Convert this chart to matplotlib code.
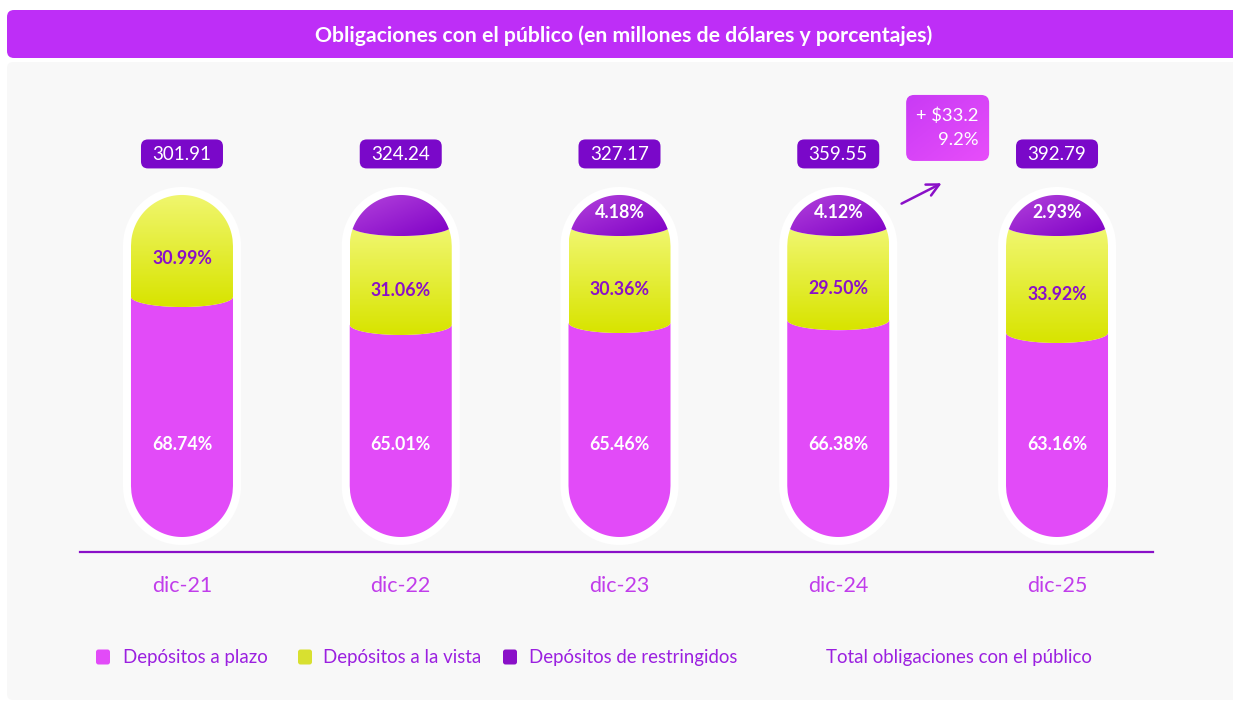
import numpy as np
import matplotlib
matplotlib.use('Agg')
import matplotlib.pyplot as plt
import matplotlib.transforms as mtransforms
from matplotlib.patches import FancyBboxPatch, Polygon
from matplotlib.colors import LinearSegmentedColormap

plt.rcParams['font.family'] = ['Lato', 'DejaVu Sans']

# ---- data (millones de dólares y %) ----
categories = ['dic-21', 'dic-22', 'dic-23', 'dic-24', 'dic-25']
totals = [301.91, 324.24, 327.17, 359.55, 392.79]
plazo = [68.74, 65.01, 65.46, 66.38, 63.16]
vista = [30.99, 31.06, 30.36, 29.50, 33.92]
restr = [0.27, 3.93, 4.18, 4.12, 2.93]
restr_shown = [False, False, True, True, True]

# ---- colours ----
C_TITLE = '#BE2EF7'
C_PANEL = '#F8F8F8'
C_PLAZO = '#E24BF8'
C_DARK = '#8A10C8'
C_BOX = '#7A08C9'
C_CAT = '#C13DEB'
C_LEG = '#9B20E0'
cm_vista = LinearSegmentedColormap.from_list('v', ['#D8E400', '#F0F66E'])
cm_cap = LinearSegmentedColormap.from_list('c', ['#7F00C6', '#B444DC'])
cm_note = LinearSegmentedColormap.from_list('n', ['#C83AF5', '#E84EFA'])

W, H = 1233, 704
fig = plt.figure(figsize=(W / 100, H / 100), dpi=100)
fig.patch.set_facecolor('white')
inch = fig.dpi_scale_trans

# title bar and panel
fig.patches.append(FancyBboxPatch((0.07, (H - 700) / 100), 12.4, 6.38,
                                  boxstyle='round,pad=0,rounding_size=0.06',
                                  fc=C_PANEL, ec='none', transform=inch, zorder=-2))
fig.patches.append(FancyBboxPatch((0.07, (H - 58) / 100), 12.4, 0.48,
                                  boxstyle='round,pad=0,rounding_size=0.07',
                                  fc=C_TITLE, ec='none', transform=inch, zorder=-1))
fig.text(624 / W, 1 - 36 / H,
         'Obligaciones con el público (en millones de dólares y porcentajes)',
         ha='center', va='center', color='white', fontsize=15.3, fontweight='bold')

# main axes
ax_l, ax_r, ax_b, ax_t = 72.6, 1166.4, 552, 62
ax = fig.add_axes([ax_l / W, (H - ax_b) / H, (ax_r - ax_l) / W, (ax_b - ax_t) / H])
ax.set_zorder(1)
ax.patch.set_visible(False)
XL = (-0.5, 4.5)
YL = (-4.39, 138.88)
ppx = (ax_r - ax_l) / (XL[1] - XL[0])
ppy = (ax_b - ax_t) / (YL[1] - YL[0])

R = 51          # pill radius, px
PAD = 8         # white rim, px
SAG = 3.0       # curvature of segment boundaries (y units)
MIN_CAP = 10.5  # minimum visible height of the top cap


def pill_xy(xc, y0, y1, r):
    rx, ry = r / ppx, r / ppy
    t1 = np.linspace(0, np.pi, 80)
    t2 = np.linspace(np.pi, 2 * np.pi, 80)
    top = np.c_[xc + rx * np.cos(t1), y1 - ry + ry * np.sin(t1)]
    bot = np.c_[xc + rx * np.cos(t2), y0 + ry + ry * np.sin(t2)]
    return np.vstack([top, bot])


rx, ry = R / ppx, R / ppy
dx = np.linspace(-rx, rx, 240)
circ = np.sqrt(np.clip(1 - (dx / rx) ** 2, 0, 1))
pill_top = 100 - ry + ry * circ
pill_bot = ry - ry * circ


def boundary(c):
    return c + SAG / 2 - SAG * circ


def segment(xc, lo, hi):
    lower = pill_bot if lo is None else np.maximum(pill_bot, boundary(lo))
    upper = pill_top if hi is None else np.minimum(pill_top, boundary(hi))
    upper = np.maximum(upper, lower)
    xy = np.vstack([np.c_[xc + dx, upper], np.c_[(xc + dx)[::-1], lower[::-1]]])
    return xy


def gradient_fill(xy, cmap, diagonal=False, z=3):
    poly = Polygon(xy, closed=True, fc='none', ec='none')
    ax.add_patch(poly)
    x0, x1 = xy[:, 0].min(), xy[:, 0].max()
    y0, y1 = xy[:, 1].min(), xy[:, 1].max()
    gx, gy = np.meshgrid(np.linspace(0, 1, 50), np.linspace(0, 1, 50))
    g = (1 - gx + gy) / 2 if diagonal else gy
    im = ax.imshow(g, extent=[x0, x1, y0, y1], origin='lower', cmap=cmap,
                   aspect='auto', zorder=z, interpolation='bilinear')
    im.set_clip_path(poly)


for i in range(len(categories)):
    # white rim
    ax.add_patch(Polygon(pill_xy(i, -PAD / ppy, 100 + PAD / ppy, R + PAD),
                         closed=True, fc='white', ec='none', zorder=2))
    if restr[i] >= 1:
        cap = max(restr[i], MIN_CAP)
        rest = 100 - cap
        p = plazo[i] / (plazo[i] + vista[i]) * rest
        v_top = 100 - cap
    else:
        p = plazo[i]
        v_top = None
    ax.add_patch(Polygon(segment(i, None, p), closed=True, fc=C_PLAZO,
                         ec='none', zorder=3))
    gradient_fill(segment(i, p, v_top), cm_vista)
    if v_top is not None:
        gradient_fill(segment(i, v_top, None), cm_cap, diagonal=True)

    ax.text(i, 27, f'{plazo[i]:.2f}%', ha='center', va='center',
            color='white', fontsize=12.8, fontweight='bold', zorder=5)
    vmid = ((p + (v_top if v_top is not None else 100)) / 2) - SAG
    ax.text(i, vmid, f'{vista[i]:.2f}%', ha='center', va='center',
            color=C_DARK, fontsize=12.8, fontweight='bold', zorder=5)
    if restr_shown[i]:
        ax.text(i, (v_top + 100) / 2, f'{restr[i]:.2f}%', ha='center',
                va='center', color='white', fontsize=12.8, fontweight='bold',
                zorder=5)

    # total label
    tr = inch + mtransforms.ScaledTranslation(i, 112, ax.transData)
    ax.add_patch(FancyBboxPatch((-0.41, -0.145), 0.82, 0.29,
                                boxstyle='round,pad=0,rounding_size=0.07',
                                fc=C_BOX, ec='none', transform=tr, zorder=5))
    ax.text(0, -0.01, f'{totals[i]:.2f}', transform=tr, ha='center',
            va='center', color='white', fontsize=13.5, zorder=6)

# growth note between the last two years
delta = totals[-1] - totals[-2]
pct = delta / totals[-2] * 100
nx, ny = len(categories) - 1.5, 119.6
tr = inch + mtransforms.ScaledTranslation(nx, ny, ax.transData)
note = FancyBboxPatch((-0.415, -0.33), 0.83, 0.66,
                      boxstyle='round,pad=0,rounding_size=0.08',
                      fc='none', ec='none', transform=tr)
ax.add_patch(note)
gx, gy = np.meshgrid(np.linspace(0, 1, 50), np.linspace(0, 1, 50))
im = ax.imshow((gx + 1 - gy) / 2, extent=[nx - 0.2, nx + 0.2, ny - 10, ny + 10],
               origin='lower', cmap=cm_note, aspect='auto', zorder=5)
im.set_clip_path(note)
ax.text(0.305, 0.12, f'+ \\${delta:.1f}', transform=tr, ha='right',
        va='center', color='white', fontsize=13.2, zorder=6)
ax.text(0.305, -0.12, f'{pct:.1f}%', transform=tr, ha='right',
        va='center', color='white', fontsize=13.2, zorder=6)
ax.annotate('', xy=(nx - 0.016, 103.8), xytext=(nx - 0.222, 97.1),
            arrowprops=dict(arrowstyle='->', color=C_DARK, lw=1.8,
                            mutation_scale=22), zorder=6)

# baseline and categories
ax.plot([-0.466, 4.439], [YL[0], YL[0]], color=C_DARK, lw=1.6,
        clip_on=False, zorder=4)
ax.set_xticks(range(len(categories)), categories)
ax.tick_params(axis='x', length=0, pad=17, labelsize=15.5, labelcolor=C_CAT)
ax.set_yticks([])
for s in ax.spines.values():
    s.set_visible(False)
ax.set_xlim(*XL)
ax.set_ylim(*YL)

# legend
leg_items = [(96, 123, 'Depósitos a plazo', C_PLAZO),
             (298, 323, 'Depósitos a la vista', '#D8E030'),
             (503, 529, 'Depósitos de restringidos', C_DARK),
             (None, 826, 'Total obligaciones con el público', None)]
ly = 657
for sx, tx, lab, col in leg_items:
    if sx is not None:
        fig.patches.append(FancyBboxPatch((sx / 100, (H - ly - 7.5) / 100),
                                          0.14, 0.15,
                                          boxstyle='round,pad=0,rounding_size=0.025',
                                          fc=col, ec='none', transform=inch,
                                          zorder=3))
    fig.text(tx / W, 1 - ly / H, lab, ha='left', va='center', color=C_LEG,
             fontsize=13.4)

fig.savefig('out.png', dpi=100, facecolor='white')
